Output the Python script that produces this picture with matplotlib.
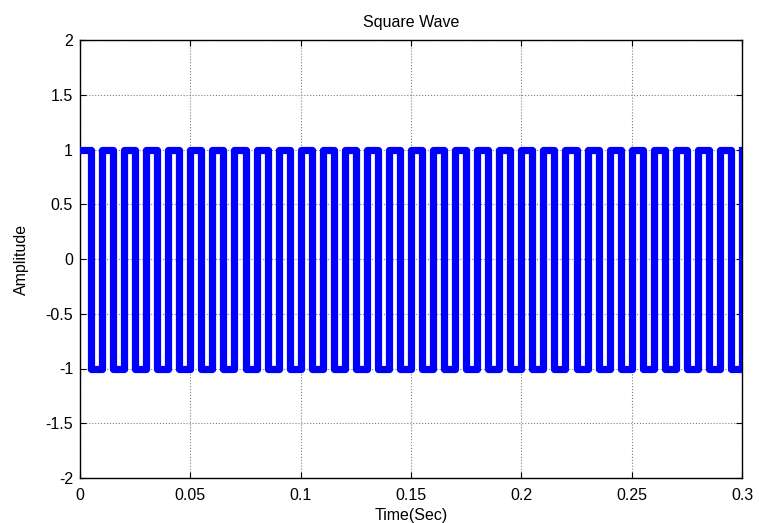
import matplotlib
matplotlib.use("Agg")
import matplotlib.pyplot as plt

# edge times of the square wave (s): one edge every half period
t_edges = [0.000, 0.005, 0.010, 0.015, 0.020, 0.025, 0.030, 0.035, 0.040, 0.045,
           0.050, 0.055, 0.060, 0.065, 0.070, 0.075, 0.080, 0.085, 0.090, 0.095,
           0.100, 0.105, 0.110, 0.115, 0.120, 0.125, 0.130, 0.135, 0.140, 0.145,
           0.150, 0.155, 0.160, 0.165, 0.170, 0.175, 0.180, 0.185, 0.190, 0.195,
           0.200, 0.205, 0.210, 0.215, 0.220, 0.225, 0.230, 0.235, 0.240, 0.245,
           0.250, 0.255, 0.260, 0.265, 0.270, 0.275, 0.280, 0.285, 0.290, 0.295,
           0.300]
# level held from each edge to the next (the last one is the jump back up at 0.3)
levels = [1, -1] * 30 + [1]

xticks = [0, 0.05, 0.1, 0.15, 0.2, 0.25, 0.3]
xticklabels = ['0', '0.05', '0.1', '0.15', '0.2', '0.25', '0.3']
yticks = [-2, -1.5, -1, -0.5, 0, 0.5, 1, 1.5, 2]
yticklabels = ['-2', '-1.5', '-1', '-0.5', '0', '0.5', '1', '1.5', '2']

plt.rcParams['font.family'] = ['Liberation Sans', 'DejaVu Sans']
fs = 11.5

fig = plt.figure(figsize=(7.59, 5.23), dpi=100)
ax = fig.add_axes([80 / 759, 1 - 478 / 523, 662 / 759, 438 / 523])

ax.plot(t_edges, levels, drawstyle='steps-post', color='#0000ff', lw=5.2,
        solid_joinstyle='round', zorder=3)

ax.set_xlim(0, 0.3)
ax.set_ylim(-2, 2)
ax.set_xticks(xticks)
ax.set_xticklabels(xticklabels)
ax.set_yticks(yticks)
ax.set_yticklabels(yticklabels)
ax.tick_params(direction='in', top=True, right=True, length=4, width=0.8,
               labelsize=fs)
ax.tick_params(axis='x', pad=7)
ax.tick_params(axis='y', pad=5)
ax.grid(True, color='#808080', linestyle=':', linewidth=0.8)
for s in ax.spines.values():
    s.set_linewidth(1.0)

ax.set_title('Square Wave', fontsize=fs, pad=9)
ax.set_xlabel('Time(Sec)', fontsize=fs, labelpad=4)
ax.set_ylabel('Amplitude', fontsize=fs, labelpad=12)

fig.savefig('out.png', dpi=100)
